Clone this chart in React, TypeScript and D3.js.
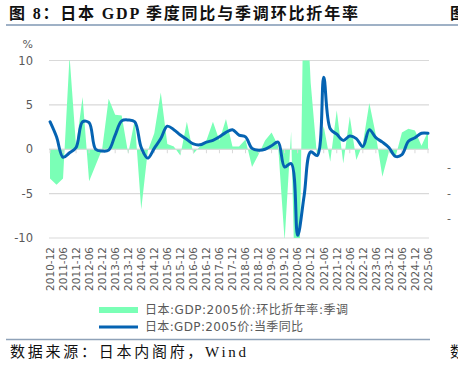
import React from 'react';
import * as d3 from 'd3';

const categories = [
  '2010-12','2011-03','2011-06','2011-09','2011-12','2012-03','2012-06','2012-09','2012-12',
  '2013-03','2013-06','2013-09','2013-12','2014-03','2014-06','2014-09','2014-12',
  '2015-03','2015-06','2015-09','2015-12','2016-03','2016-06','2016-09','2016-12',
  '2017-03','2017-06','2017-09','2017-12','2018-03','2018-06','2018-09','2018-12',
  '2019-03','2019-06','2019-09','2019-12','2020-03','2020-06','2020-09','2020-12',
  '2021-03','2021-06','2021-09','2021-12','2022-03','2022-06','2022-09','2022-12',
  '2023-03','2023-06','2023-09','2023-12','2024-03','2024-06','2024-09','2024-12',
  '2025-03','2025-06'
];

// 日本:GDP:2005价:环比折年率:季调
const qoqSaar = [
  -3.3, -4.0, -3.3, 10.5, 0.3, 5.9, -3.6, -1.8, 0.0,
  5.7, 3.9, 3.8, -0.5, 3.3, -6.8, -0.2, 1.8,
  6.4, 0.6, 0.3, -0.7, 3.1, -0.5, 0.3, 1.0,
  3.1, 1.0, 3.4, 0.3, 0.3, 1.1, -2.0, -0.6,
  1.0, 1.9, 0.4, -10.3, 2.0, -28.0, 22.5, 7.5,
  -1.0, 2.6, -1.4, 4.4, -1.6, 3.7, -1.2, 0.6,
  5.2, 1.6, -3.1, -0.3, -0.9, 1.9, 2.3, 2.1,
  0.4, 2.0
];

// 日本:GDP:2005价:当季同比
const yoy = [
  3.1, 1.4, -0.9, -0.4, 0.2, 3.1, 3.0, 0.0, -0.2,
  -0.1, 1.6, 3.2, 3.3, 3.1, 0.2, -1.0, 0.1,
  1.2, 2.6, 2.2, 1.6, 1.1, 0.6, 0.5, 0.8,
  1.0, 1.4, 1.9, 2.2, 1.6, 1.4, 0.1, -0.1,
  0.0, 0.4, 0.8, -2.0, -1.6, -9.7, -5.2, -0.3,
  -0.7, 8.1, 2.3, 1.7, 1.0, 1.5, 1.2, 0.3,
  2.2, 1.3, 0.8, 0.2, -0.8, -0.6, 0.9, 1.3,
  1.8, 1.8
];

const yTicks = [10, 5, 0, -5, -10];
const xTickLabels = categories.filter((_, i) => i % 2 === 0);

const seriesNames = ['日本:GDP:2005价:环比折年率:季调', '日本:GDP:2005价:当季同比'];
const titleText = '图 8：日本 GDP 季度同比与季调环比折年率';
const sourceText = '数据来源：日本内阁府，Wind';

const GREEN = '#7affb6';
const BLUE = '#0563b2';
const GRID = '#d9d9d9';
const TEXT = '#595959';

export default function App() {
  const W = 458, H = 366;
  const x = d3.scalePoint<string>().domain(categories).range([50, 428]);
  const y = d3.scaleLinear().domain([-10, 10]).range([238, 60.5]);
  const xl = 49, xr = 429;

  const rows = categories.map((c, i) => ({ c, a: qoqSaar[i], b: yoy[i] }));
  const area = d3.area<any>().x(d => x(d.c)!).y0(y(0)).y1(d => y(d.a)).curve(d3.curveLinear);
  const line = d3.line<any>().x(d => x(d.c)!).y(d => y(d.b)).curve(d3.curveCatmullRom.alpha(0.5));

  const labelFont = "'DejaVu Sans','Noto Sans CJK SC',sans-serif";

  return (
    <svg width={W} height={H} style={{ position: 'absolute', left: 0, top: 0, display: 'block', background: '#fff' }}>
      <defs>
        <clipPath id="plotClip">
          <rect x={xl} y={y(10)} width={xr - xl} height={y(-10) - y(10)} />
        </clipPath>
      </defs>
      {/* Title */}
      <text x={9} y={19} fontSize={16} fontWeight={700} fill="#111"
        fontFamily="'Liberation Serif','Noto Sans CJK SC',serif" textLength={349} lengthAdjust="spacing">{titleText}</text>
      <text x={450} y={19} fontSize={16} fontWeight={700} fill="#111"
        fontFamily="'Liberation Serif','Noto Sans CJK SC',serif">图</text>
      <line x1={6} x2={458} y1={25} y2={25} stroke="#9fb1c6" strokeWidth={2} />

      {/* grid */}
      {yTicks.map(t => (
        <line key={'g' + t} x1={xl} x2={xr} y1={y(t)} y2={y(t)} stroke={GRID} strokeWidth={1.2} />
      ))}
      {yTicks.map(t => (
        <text key={'yl' + t} x={33} y={y(t)} dy="0.36em" textAnchor="end" fontSize={11.5}
          fill={TEXT} fontFamily={labelFont}>{t}</text>
      ))}
      <text x={33} y={44} dy="0.36em" textAnchor="end" fontSize={11} fill={TEXT} fontFamily={labelFont}>%</text>

      {/* area */}
      <path d={area(rows)!} fill={GREEN} clipPath="url(#plotClip)" />

      {/* zero axis + ticks */}
      <line x1={xl} x2={xr} y1={y(0)} y2={y(0)} stroke={GRID} strokeWidth={1.2} />
      {xTickLabels.map(c => (
        <line key={'tk' + c} x1={x(c)} x2={x(c)} y1={y(0)} y2={y(0) + 4} stroke={GRID} strokeWidth={1} />
      ))}

      {/* line */}
      <path d={line(rows)!} fill="none" stroke={BLUE} strokeWidth={3} strokeLinejoin="round" strokeLinecap="round" />

      {/* x labels */}
      {xTickLabels.map(c => (
        <text key={'xl' + c} transform={`translate(${x(c)},247) rotate(-90)`} textAnchor="end" dy="0.36em"
          fontSize={10.5} fill={TEXT} fontFamily={labelFont}>{c}</text>
      ))}

      {/* legend */}
      <rect x={99} y={307} width={39} height={6} fill={GREEN} />
      <text x={145} y={310} dy="0.36em" fontSize={12} fill={TEXT} fontFamily={labelFont}
        textLength={203} lengthAdjust="spacing">{seriesNames[0]}</text>
      <line x1={99} x2={138} y1={327} y2={327} stroke={BLUE} strokeWidth={3} />
      <text x={145} y={327} dy="0.36em" fontSize={12} fill={TEXT} fontFamily={labelFont}
        textLength={158} lengthAdjust="spacing">{seriesNames[1]}</text>

      {/* right edge remnants */}
      {[167, 193, 218].map(v => (
        <text key={'r' + v} x={447} y={v} dy="0.36em" fontSize={11} fill={TEXT} fontFamily={labelFont}>-</text>
      ))}

      {/* source */}
      <line x1={6} x2={430} y1={339.5} y2={339.5} stroke="#8fa2b8" strokeWidth={1.5} />
      <text x={10} y={357} fontSize={15} fill="#111"
        fontFamily="'Liberation Serif','Noto Sans CJK SC',serif" textLength={236} lengthAdjust="spacing">{sourceText}</text>
      <text x={450} y={357} fontSize={15} fill="#111"
        fontFamily="'Liberation Serif','Noto Sans CJK SC',serif">数</text>
    </svg>
  );
}
